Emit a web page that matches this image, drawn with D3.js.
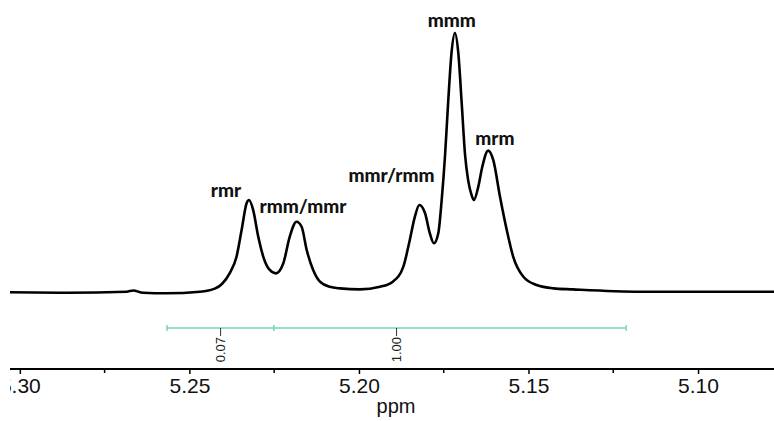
<!DOCTYPE html>
<html>
<head>
<meta charset="utf-8">
<script src="https://cdn.jsdelivr.net/npm/d3@7"></script>
<style>
  body { margin: 0; background: #fff; }
  svg { display: block; }
</style>
</head>
<body>
<div id="chart"></div>
<script>
// spectrum trace: chemical shift (ppm) and relative intensity
const shift = [5.3030, 5.2862, 5.2685, 5.2666, 5.2637, 5.2567, 5.2469, 5.2425, 5.2404, 5.2381,
  5.2361, 5.2346, 5.2331, 5.2324, 5.2312, 5.2297, 5.2282, 5.2263, 5.2245, 5.2223,
  5.2204, 5.2184, 5.2169, 5.2154, 5.2135, 5.2115, 5.2086, 5.2056, 5.1997, 5.1938,
  5.1900, 5.1869, 5.1850, 5.1835, 5.1822, 5.1805, 5.1791, 5.1779, 5.1766, 5.1756,
  5.1746, 5.1737, 5.1727, 5.1717, 5.1707, 5.1697, 5.1687, 5.1678, 5.1668, 5.1661,
  5.1648, 5.1637, 5.1619, 5.1604, 5.1584, 5.1564, 5.1545, 5.1515, 5.1476, 5.1427,
  5.1369, 5.1171, 5.0776];
const intensity = [-0.001, -0.003, 0.001, 0.006, -0.003, -0.005, 0.001, 0.013, 0.031, 0.073,
  0.136, 0.239, 0.344, 0.355, 0.317, 0.214, 0.136, 0.085, 0.072, 0.111,
  0.214, 0.271, 0.252, 0.162, 0.085, 0.040, 0.020, 0.014, 0.010, 0.020,
  0.040, 0.098, 0.201, 0.291, 0.336, 0.304, 0.227, 0.188, 0.227, 0.355,
  0.529, 0.730, 0.923, 1.000, 0.923, 0.730, 0.529, 0.432, 0.375, 0.355,
  0.407, 0.479, 0.546, 0.510, 0.368, 0.239, 0.136, 0.059, 0.027, 0.014,
  0.010, 0.001, 0.001];

// peak assignments (label centre and baseline level)
const peakLabels = ["rmr", "rmm/mmr", "mmr/rmm", "mmm", "mrm"];
const peakLabelShift = [5.2392, 5.2165, 5.1904, 5.1726, 5.1599];
const peakLabelLevel = [0.367, 0.305, 0.425, 1.023, 0.568];

// integration regions
const integralEdges = [5.2566, 5.2251, 5.1212];
const integralValues = ["0.07", "1.00"];
const integralLabelShift = [5.2408, 5.1889];

const majorTicks = [5.30, 5.25, 5.20, 5.15, 5.10];
const minorTicks = [5.275, 5.225, 5.175, 5.125];

const width = 774, height = 421;

const svg = d3.select("#chart").append("svg")
    .attr("width", width)
    .attr("height", height);

svg.append("defs").append("clipPath")
    .attr("id", "plotclip")
  .append("rect")
    .attr("x", 10).attr("y", 0)
    .attr("width", width - 10).attr("height", height);

const g = svg.append("g").attr("clip-path", "url(#plotclip)");

// x runs right to left as usual for NMR
const x = d3.scaleLinear().domain([5.3029, 5.0776]).range([10, 774]);
const y = d3.scaleLinear().domain([0, 1]).range([292, 33]);

const points = shift.map((s, i) => [s, intensity[i]]);

const line = d3.line()
    .x(d => x(d[0]))
    .y(d => y(d[1]))
    .curve(d3.curveMonotoneX);

g.append("path")
    .datum(points)
    .attr("fill", "none")
    .attr("stroke", "#000")
    .attr("stroke-width", 2.6)
    .attr("stroke-linejoin", "round")
    .attr("d", line);

// peak labels
g.selectAll(".peak-label")
    .data(peakLabels)
  .join("text")
    .attr("class", "peak-label")
    .attr("x", (d, i) => x(peakLabelShift[i]))
    .attr("y", (d, i) => y(peakLabelLevel[i]))
    .attr("text-anchor", "middle")
    .style("font-family", "Lato, 'Open Sans', sans-serif")
    .style("font-weight", "900")
    .style("font-size", "19px")
    .style("fill", "#111")
    .text(d => d);

// integral bar
const barY = 328;
const integ = g.append("g").attr("class", "integrals");

integ.append("line")
    .attr("x1", x(integralEdges[0]))
    .attr("x2", x(integralEdges[integralEdges.length - 1]))
    .attr("y1", barY).attr("y2", barY)
    .attr("stroke", "#74d4ad")
    .attr("stroke-width", 1.6);

integ.selectAll(".edge")
    .data(integralEdges)
  .join("line")
    .attr("class", "edge")
    .attr("x1", d => x(d)).attr("x2", d => x(d))
    .attr("y1", barY - 3).attr("y2", barY + 3)
    .attr("stroke", "#74d4ad")
    .attr("stroke-width", 1.4);

integ.selectAll(".leader")
    .data(integralLabelShift)
  .join("line")
    .attr("class", "leader")
    .attr("x1", d => x(d)).attr("x2", d => x(d))
    .attr("y1", barY).attr("y2", barY + 8)
    .attr("stroke", "#333")
    .attr("stroke-width", 1);

integ.selectAll(".int-label")
    .data(integralValues)
  .join("text")
    .attr("class", "int-label")
    .attr("transform", (d, i) => `translate(${x(integralLabelShift[i]) + 4.5},${barY + 9}) rotate(-90)`)
    .attr("text-anchor", "end")
    .style("font-family", "'Liberation Sans', Arial, sans-serif")
    .style("font-size", "13px")
    .style("fill", "#222")
    .text(d => d);

// axis
const axisY = 369;
const axis = d3.axisBottom(x)
    .tickValues(majorTicks)
    .tickFormat(d3.format(".2f"))
    .tickSize(5)
    .tickSizeOuter(0)
    .tickPadding(4);

const ax = g.append("g")
    .attr("transform", `translate(0,${axisY})`)
    .call(axis);

ax.select(".domain").remove();
ax.selectAll(".tick line").attr("stroke", "#000").attr("stroke-width", 1.5);
ax.selectAll(".tick text")
    .style("font-family", "'Liberation Sans', Arial, sans-serif")
    .style("font-size", "21px")
    .style("fill", "#111");

ax.selectAll(".minor")
    .data(minorTicks)
  .join("line")
    .attr("class", "minor")
    .attr("x1", d => x(d)).attr("x2", d => x(d))
    .attr("y1", 0).attr("y2", 4)
    .attr("stroke", "#000")
    .attr("stroke-width", 1.5);

ax.append("line")
    .attr("x1", x.range()[0]).attr("x2", x.range()[1])
    .attr("y1", 0).attr("y2", 0)
    .attr("stroke", "#000")
    .attr("stroke-width", 2);

g.append("text")
    .attr("x", 396)
    .attr("y", 413)
    .attr("text-anchor", "middle")
    .style("font-family", "'Liberation Sans', Arial, sans-serif")
    .style("font-size", "20px")
    .style("fill", "#111")
    .text("ppm");
</script>
</body>
</html>
